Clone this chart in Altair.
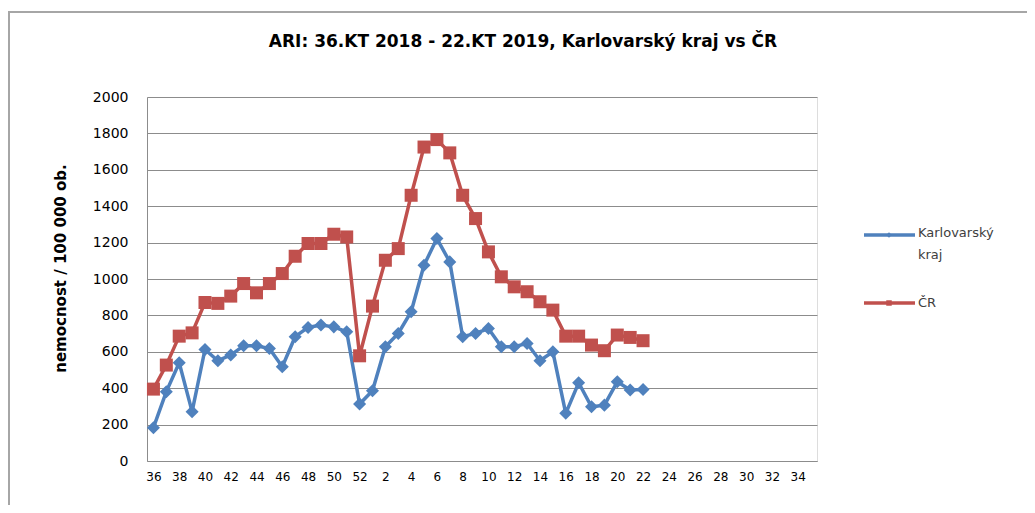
import altair as alt
import pandas as pd

# ---- data ----
week_order = [str(w) for w in list(range(36, 53)) + list(range(1, 36))]
week_ticks = [str(w) for w in list(range(36, 53, 2)) + list(range(2, 35, 2))]
data_weeks = [str(w) for w in list(range(36, 53)) + list(range(1, 23))]

karlovarsky = [183, 381, 540, 271, 613, 551, 582, 633, 633, 618, 518, 683, 734, 747, 737, 710, 313,
               386, 628, 701, 820, 1076, 1222, 1094, 683, 701, 728, 628, 628, 646, 551, 600, 262, 430,
               298, 307, 435, 390, 393]
cr = [395, 527, 686, 704, 871, 866, 906, 975, 924, 975, 1030, 1125, 1195, 1195, 1246, 1231, 578,
      851, 1103, 1167, 1460, 1725, 1766, 1693, 1460, 1332, 1149, 1012, 957, 930, 875, 829, 686, 686,
      637, 606, 692, 679, 661]

series_names = ["Karlovarský kraj", "ČR"]
series_colors = ["#4F81BD", "#C0504D"]
y_ticks = list(range(0, 2001, 200))

title_text = "ARI: 36.KT 2018 - 22.KT 2019, Karlovarský kraj vs ČR"
y_title = "nemocnost / 100 000 ob."

rows = []
for name, vals in zip(series_names, [karlovarsky, cr]):
    for w, v in zip(data_weeks, vals):
        rows.append({"week": w, "series": name, "value": v})
df = pd.DataFrame(rows)

FONT = "DejaVu Sans"
W, H = 670, 364

x_enc = alt.X("week:O", sort=week_order,
              scale=alt.Scale(type="point", domain=week_order, padding=0.5),
              axis=alt.Axis(values=week_ticks, labelAngle=0, title=None, ticks=False,
                            domainColor="#8c8c8c", labelFont=FONT, labelFontSize=12,
                            labelColor="#000000", labelPadding=10, grid=False))
y_enc = alt.Y("value:Q",
              scale=alt.Scale(domain=[0, 2000], nice=False),
              axis=alt.Axis(values=y_ticks, format="d", title=y_title, ticks=False, grid=True,
                            gridColor="#8c8c8c", gridWidth=1, domainColor="#8c8c8c",
                            labelFont=FONT, labelFontSize=14, labelColor="#000000",
                            labelPadding=19, titleFont=FONT, titleFontSize=15,
                            titleFontWeight="bold", titleColor="#000000",
                            titleX=-87, titleY=171, titleBaseline="middle", titleAngle=-90))
color_enc = alt.Color("series:N", scale=alt.Scale(domain=series_names, range=series_colors),
                      legend=None)

base = alt.Chart(df)

lines = base.mark_line(strokeWidth=3.5).encode(x=x_enc, y=y_enc, color=color_enc, detail="series:N")

pts_k = base.transform_filter(alt.datum.series == series_names[0]).mark_point(
    shape="diamond", filled=True, size=170, opacity=1).encode(x=x_enc, y=y_enc, color=color_enc)
pts_c = base.transform_filter(alt.datum.series == series_names[1]).mark_point(
    shape="square", filled=True, size=169, opacity=1).encode(x=x_enc, y=y_enc, color=color_enc)

# frame
frame = alt.Chart(pd.DataFrame({"a": [0]})).mark_rect(filled=False, stroke="#a6a6a6",
                                                      strokeWidth=2).encode(
    x=alt.value(-138), x2=alt.value(1000), y=alt.value(-85), y2=alt.value(600))

# title
title = alt.Chart(pd.DataFrame({"t": [title_text]})).mark_text(
    font=FONT, fontSize=17, fontWeight="bold", color="#000000", align="center",
    baseline="middle").encode(text="t:N", x=alt.value(376), y=alt.value(-55))

# legend
leg_src = pd.DataFrame({"a": [0]})
leg_line_k = alt.Chart(leg_src).mark_rule(color=series_colors[0], strokeWidth=3.5).encode(
    x=alt.value(717), x2=alt.value(768), y=alt.value(138))
leg_pt_k = alt.Chart(leg_src).mark_point(shape="diamond", filled=True, size=30, opacity=1,
                                          color=series_colors[0]).encode(
    x=alt.value(742), y=alt.value(138))
leg_txt_k = alt.Chart(leg_src).mark_text(text=["Karlovarský", "kraj"], font=FONT, fontSize=13,
                                          color="#404040", align="left", baseline="top",
                                          lineHeight=22).encode(
    x=alt.value(771), y=alt.value(130))
leg_line_c = alt.Chart(leg_src).mark_rule(color=series_colors[1], strokeWidth=3.5).encode(
    x=alt.value(717), x2=alt.value(768), y=alt.value(206))
leg_pt_c = alt.Chart(leg_src).mark_point(shape="square", filled=True, size=30, opacity=1,
                                          color=series_colors[1]).encode(
    x=alt.value(742), y=alt.value(206))
leg_txt_c = alt.Chart(leg_src).mark_text(text="ČR", font=FONT, fontSize=13, color="#404040",
                                          align="left", baseline="middle").encode(
    x=alt.value(771), y=alt.value(206))

chart = alt.layer(frame, lines, pts_k, pts_c, title, leg_line_k, leg_pt_k, leg_txt_k,
                  leg_line_c, leg_pt_c, leg_txt_c).properties(
    width=W, height=H,
    autosize=alt.AutoSizeParams(type="none"),
    padding={"left": 139, "top": 89, "right": 210, "bottom": 44},
).configure_view(stroke=None).configure(background="white")

chart.save("out.html", embed_options={"renderer": "svg", "actions": False})
